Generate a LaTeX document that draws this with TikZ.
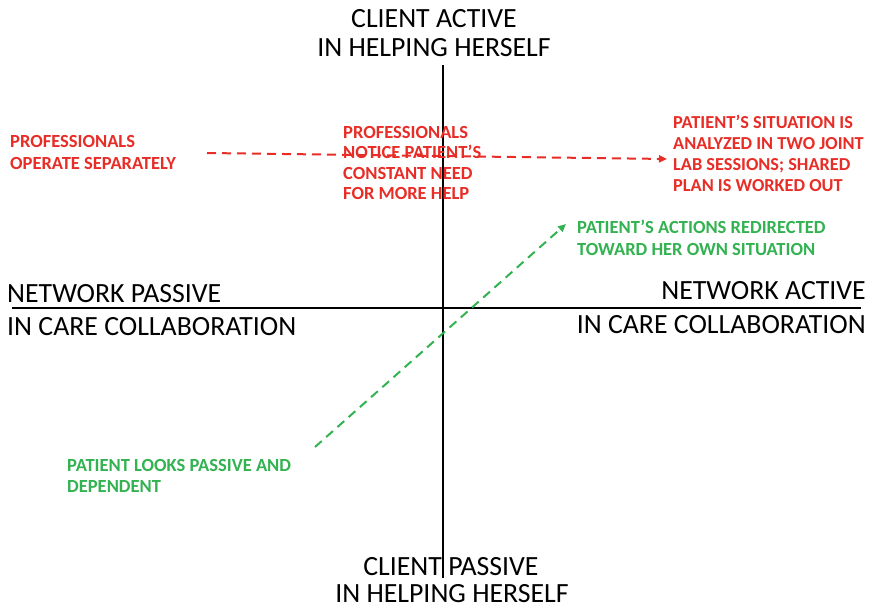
\documentclass[tikz,border=0pt]{standalone}
\usepackage{fontspec}
\setmainfont{Carlito}
\usetikzlibrary{arrows.meta}
\definecolor{myred}{RGB}{232,44,38}
\definecolor{mygreen}{RGB}{50,178,80}
\begin{document}
\begin{tikzpicture}[x=1pt,y=-1pt,
  axislabel/.style={inner sep=0pt,font=\fontsize{27.8}{30}\selectfont,text=black},
  redtext/.style={inner sep=0pt,anchor=north west,align=left,text=myred,font=\bfseries\fontsize{18.5}{20.5}\selectfont},
  redtexta/.style={redtext,font=\bfseries\fontsize{18.5}{22}\selectfont},
  redtextb/.style={redtext,font=\bfseries\fontsize{18.3}{21}\selectfont},
  greentext/.style={inner sep=0pt,anchor=north west,align=left,text=mygreen,font=\bfseries\fontsize{18.5}{21.5}\selectfont},
  axis/.style={line width=2.2pt,black},
  dasharrow/.style={line width=2pt,dash pattern=on 9pt off 6pt,-{Triangle[length=8pt,width=7pt]}}]
\useasboundingbox (0,0) rectangle (872,609);
% axes
\coordinate (vt) at (443,65);
\coordinate (vb) at (443,578);
\coordinate (hl) at (12,308);
\coordinate (hr) at (861,308);
\draw[axis] (vt) -- (vb);
\draw[axis] (hl) -- (hr);
% axis labels
\node[axislabel,anchor=base] (t1) at (434,28) {CLIENT ACTIVE};
\node[axislabel,anchor=base] (t2) at (434,57) {IN HELPING HERSELF};
\node[axislabel,anchor=base] (b1) at (451,575) {CLIENT PASSIVE};
\node[axislabel,anchor=base] (b2) at (452,602) {IN HELPING HERSELF};
\node[axislabel,anchor=base west] (l1) at (7,302) {NETWORK PASSIVE};
\node[axislabel,anchor=base west] (l2) at (7,335) {IN CARE COLLABORATION};
\node[axislabel,anchor=base east] (r1) at (866,300) {NETWORK ACTIVE};
\node[axislabel,anchor=base east] (r2) at (866,334) {IN CARE COLLABORATION};
% red texts
\node[redtexta] (rl) at (10,135) {PROFESSIONALS\\OPERATE SEPARATELY};
\node[redtext] (rm) at (343,126) {PROFESSIONALS\\NOTICE PATIENT’S\\CONSTANT NEED\\FOR MORE HELP};
\node[redtextb] (rr) at (673,115) {PATIENT’S SITUATION IS\\ANALYZED IN TWO JOINT\\LAB SESSIONS; SHARED\\PLAN IS WORKED OUT};
% green texts
\node[greentext] (gr) at (577,220) {PATIENT’S ACTIONS REDIRECTED\\TOWARD HER OWN SITUATION};
\node[greentext] (gl) at (67,459) {PATIENT LOOKS PASSIVE AND\\DEPENDENT};
% arrows
\coordinate (ra) at (207,153);
\coordinate (rb) at (667,159);
\draw[dasharrow,myred] (ra) -- (rb);
\coordinate (ga) at (315,447);
\coordinate (gb) at (566,224);
\draw[dasharrow,mygreen] (ga) -- (gb);
\end{tikzpicture}
\end{document}
